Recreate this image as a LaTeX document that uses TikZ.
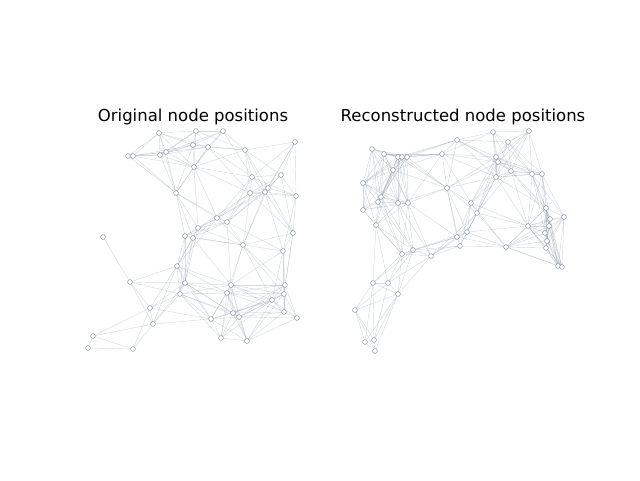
\documentclass[tikz,border=0pt]{standalone}
\usepackage{fontspec}
\setmainfont{DejaVu Sans}
\usetikzlibrary{positioning}

\definecolor{edgegray}{RGB}{150,160,172}
\definecolor{dotgray}{RGB}{130,140,155}

% node positions (pixels), original layout
\def\ox{{159,196,223,128,133,160,166,193,208,245,295,194,176,252,281,268,265,250,296,217,227,198,293,185,193,243,283,103,177,130,185,180,150,153,93,88,133,231,227,285,284,272,233,239,211,284,297,221,247}}
\def\oy{{133,131,131,156,156,155,152,145,147,150,142,167,193,177,175,188,192,193,196,218,222,228,233,236,238,245,251,237,266,282,283,294,308,324,336,348,349,285,293,285,294,300,313,317,319,312,318,338,341}}
% reconstructed layout
\def\rx{{493,529,508,457,372,384,398,402,407,442,496,498,511,532,542,496,393,363,447,381,378,398,408,363,376,471,477,546,550,564,528,549,545,467,457,460,506,547,546,558,562,402,413,431,373,388,398,355,365,374,375}}
\def\ry{{132,131,142,140,149,154,157,157,157,154,157,162,171,174,174,177,170,183,188,197,202,203,203,210,225,203,213,208,219,217,226,226,233,232,237,246,247,241,248,266,267,254,250,256,283,283,294,310,342,340,351}}

\begin{document}
\begin{tikzpicture}[
    x=1pt, y=-1pt,
    dot/.style={draw=dotgray, circle, fill=white, inner sep=0pt, minimum size=4.8pt, line width=0.5pt},
    edge/.style={draw=edgegray, line width=0.45pt, opacity=0.38},
    ttl/.style={anchor=base, font=\fontsize{16.5}{20}\selectfont}
]
\useasboundingbox (0,0) rectangle (640,480);

% ---- titles ----
\node[ttl] (t_orig) at (193,121) {Original node positions};
\node[ttl] (t_rec)  at (463,121) {Reconstructed node positions};

% ---- original layout ----
\foreach \i in {0,...,48}
    \coordinate (o\i) at ({\ox[\i]},{\oy[\i]});
\foreach \i in {0,...,48}{
  \foreach \j in {0,...,48}{
    \ifnum\j>\i
      \pgfmathsetmacro\dd{veclen(\ox[\i]-\ox[\j],\oy[\i]-\oy[\j])}
      \ifdim\dd pt<64pt \draw[edge] (o\i) -- (o\j);\fi
    \fi
  }
}
\foreach \i in {0,...,48}
    \node[dot] (on\i) at (o\i) {};

% ---- reconstructed layout ----
\foreach \i in {0,...,50}
    \coordinate (r\i) at ({\rx[\i]},{\ry[\i]});
\foreach \i in {0,...,50}{
  \foreach \j in {0,...,50}{
    \ifnum\j>\i
      \pgfmathsetmacro\dd{veclen(\rx[\i]-\rx[\j],\ry[\i]-\ry[\j])}
      \ifdim\dd pt<63pt \draw[edge] (r\i) -- (r\j);\fi
    \fi
  }
}
\foreach \i in {0,...,50}
    \node[dot] (rn\i) at (r\i) {};

\end{tikzpicture}
\end{document}
